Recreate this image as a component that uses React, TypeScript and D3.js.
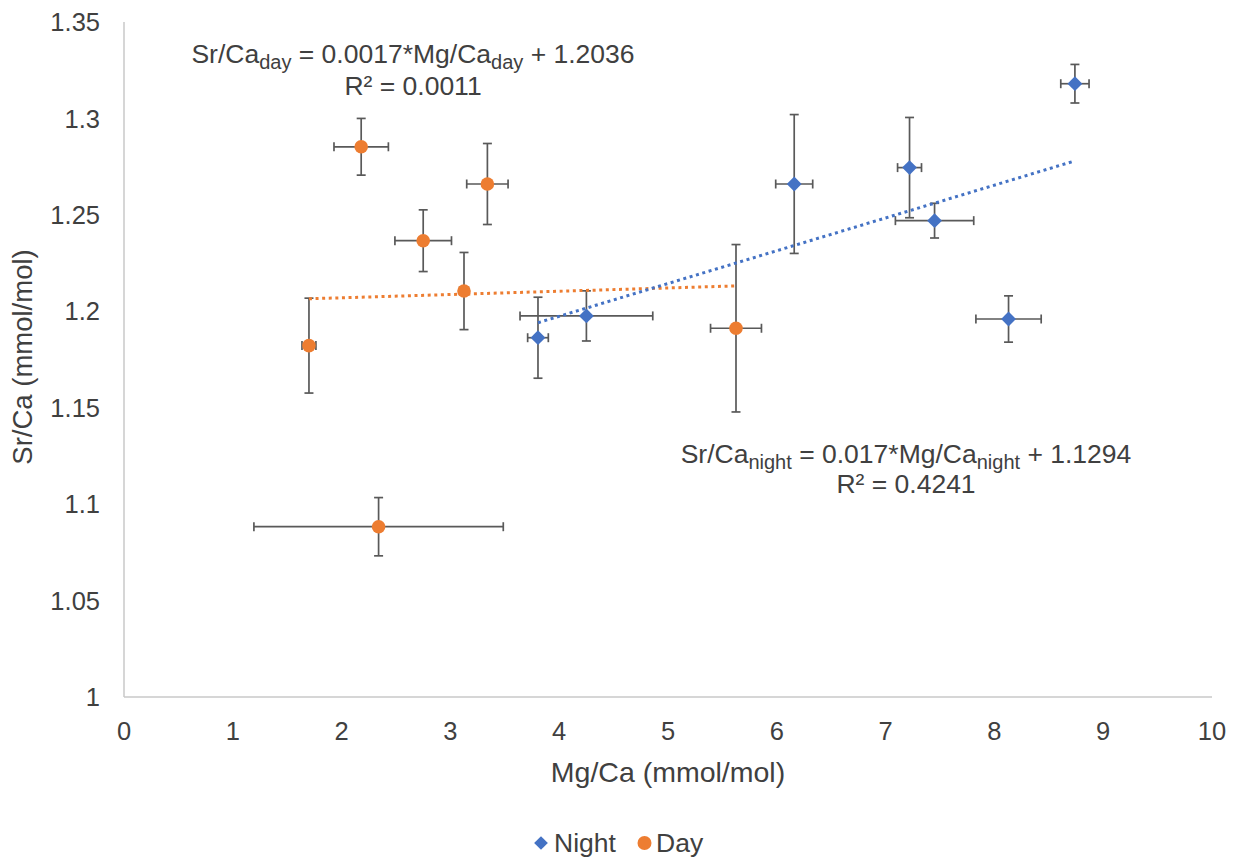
import React from "react";
import * as d3 from "d3";

// Mg/Ca vs Sr/Ca, night and day samples with x/y error bars
const nightX = [8.74, 7.22, 7.45, 8.13, 6.16, 4.25, 3.805];
const nightY = [1.318, 1.2745, 1.247, 1.196, 1.266, 1.1976, 1.1863];
const nightXErr = [0.13, 0.11, 0.36, 0.3, 0.17, 0.61, 0.095];
const nightYErr = [0.01, 0.026, 0.009, 0.012, 0.036, 0.013, 0.021];

const dayX = [2.18, 3.34, 2.75, 3.125, 1.7, 5.625, 2.34];
const dayY = [1.2853, 1.266, 1.2366, 1.2105, 1.1822, 1.1912, 1.0883];
const dayXErr = [0.25, 0.19, 0.26, 0.04, 0.064, 0.234, 1.146];
const dayYErr = [0.0147, 0.021, 0.016, 0.02, 0.0246, 0.0434, 0.0151];

// trendline coefficients as printed in the chart
const nightFit = { slope: 0.017, intercept: 1.1294 };
const dayFit = { slope: 0.0017, intercept: 1.2036 };

const xTicks = [0, 1, 2, 3, 4, 5, 6, 7, 8, 9, 10];
const yTicks = [1, 1.05, 1.1, 1.15, 1.2, 1.25, 1.3, 1.35];

const BLUE = "#4472C4";
const ORANGE = "#ED7D31";
const ERR = "#595959";
const TEXT = "#404040";
const FONT = "'Liberation Sans', Arial, sans-serif";

const W = 1233, H = 857;
const left = 124, right = 1212, top = 22, bottom = 697;

export default function App() {
  const x = d3.scaleLinear().domain([0, 10]).range([left, right]);
  const y = d3.scaleLinear().domain([1, 1.35]).range([bottom, top]);

  const night = nightX.map((v, i) => ({ x: v, y: nightY[i], ex: nightXErr[i], ey: nightYErr[i] }));
  const day = dayX.map((v, i) => ({ x: v, y: dayY[i], ex: dayXErr[i], ey: dayYErr[i] }));

  const cap = 4.5;
  const errBars = (pts: any[], key: string) =>
    pts.map((p, i) => {
      const cx = x(p.x), cy = y(p.y);
      const x0 = x(p.x - p.ex), x1 = x(p.x + p.ex);
      const y0 = y(p.y + p.ey), y1 = y(p.y - p.ey);
      return (
        <g key={key + i} stroke={ERR} strokeWidth={1.7}>
          <line x1={x0} x2={x1} y1={cy} y2={cy} />
          <line x1={x0} x2={x0} y1={cy - cap} y2={cy + cap} />
          <line x1={x1} x2={x1} y1={cy - cap} y2={cy + cap} />
          <line x1={cx} x2={cx} y1={y0} y2={y1} />
          <line x1={cx - cap} x2={cx + cap} y1={y0} y2={y0} />
          <line x1={cx - cap} x2={cx + cap} y1={y1} y2={y1} />
        </g>
      );
    });

  const trend = (xs: number[], fit: { slope: number; intercept: number }, color: string) => {
    const [a, b] = d3.extent(xs) as [number, number];
    const line = d3.line<number>().x((d) => x(d)).y((d) => y(fit.slope * d + fit.intercept));
    return <path d={line([a, b]) || ""} stroke={color} strokeWidth={3} strokeDasharray="3,3.6" fill="none" />;
  };

  const diamond = d3.symbol().type(d3.symbolDiamond2).size(140)() || "";
  const legDiamond = d3.symbol().type(d3.symbolDiamond2).size(120)() || "";

  const sub = (t: string) => (
    <tspan fontSize={20} dy={6}>{t}</tspan>
  );
  const back = (t: string) => <tspan dy={-6}>{t}</tspan>;

  return (
    <svg width={W} height={H} style={{ position: "absolute", left: 0, top: 0, background: "#fff" }} fontFamily={FONT}>
      <rect width={W} height={H} fill="#fff" />
      {/* axes */}
      <line x1={left} x2={left} y1={top} y2={bottom} stroke="#C8C8C8" strokeWidth={1.5} />
      <line x1={left} x2={right} y1={bottom} y2={bottom} stroke="#C8C8C8" strokeWidth={1.5} />
      {yTicks.map((t) => (
        <text key={"y" + t} x={100} y={y(t)} dy="0.36em" textAnchor="end" fontSize={25.5} fill={TEXT}>
          {d3.format("")(+t.toFixed(2))}
        </text>
      ))}
      {xTicks.map((t) => (
        <text key={"x" + t} x={x(t)} y={731} dy="0.36em" textAnchor="middle" fontSize={25.5} fill={TEXT}>
          {t}
        </text>
      ))}
      <text x={668} y={772} dy="0.36em" textAnchor="middle" fontSize={28.5} fill={TEXT}>
        Mg/Ca (mmol/mol)
      </text>
      <text transform={`translate(22,357) rotate(-90)`} dy="0.36em" textAnchor="middle" fontSize={27.5} fill={TEXT}>
        Sr/Ca (mmol/mol)
      </text>

      {errBars(day, "de")}
      {errBars(night, "ne")}
      {trend(dayX, dayFit, ORANGE)}
      {trend(nightX, nightFit, BLUE)}
      {day.map((p, i) => (
        <circle key={"d" + i} cx={x(p.x)} cy={y(p.y)} r={6.8} fill={ORANGE} />
      ))}
      {night.map((p, i) => (
        <path key={"n" + i} d={diamond} transform={`translate(${x(p.x)},${y(p.y)})`} fill={BLUE} />
      ))}

      {/* equations */}
      <text x={413} y={53} dy="0.36em" textAnchor="middle" fontSize={26.5} fill={TEXT}>
        Sr/Ca{sub("day")}{back(" = 0.0017*Mg/Ca")}{sub("day")}{back(" + 1.2036")}
      </text>
      <text x={413} y={85} dy="0.36em" textAnchor="middle" fontSize={26.5} fill={TEXT}>
        R² = 0.0011
      </text>
      <text x={906} y={453} dy="0.36em" textAnchor="middle" fontSize={26.5} fill={TEXT}>
        Sr/Ca{sub("night")}{back(" = 0.017*Mg/Ca")}{sub("night")}{back(" + 1.1294")}
      </text>
      <text x={906} y={483} dy="0.36em" textAnchor="middle" fontSize={26.5} fill={TEXT}>
        R² = 0.4241
      </text>

      {/* legend */}
      <path d={legDiamond} transform="translate(541,843)" fill={BLUE} />
      <text x={554} y={842} dy="0.36em" fontSize={26.5} fill={TEXT}>Night</text>
      <circle cx={644.5} cy={843} r={7} fill={ORANGE} />
      <text x={656} y={842} dy="0.36em" fontSize={26.5} fill={TEXT}>Day</text>
    </svg>
  );
}
